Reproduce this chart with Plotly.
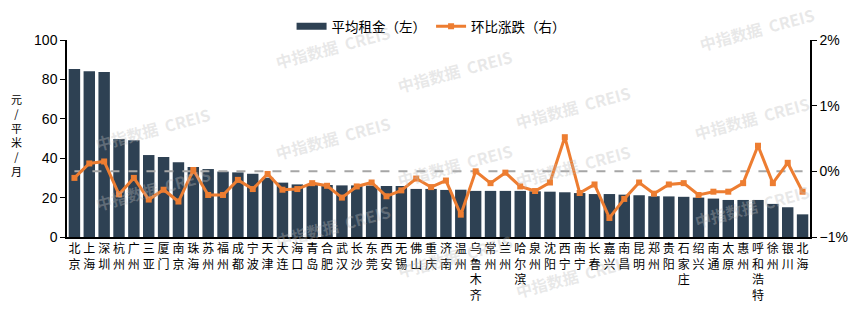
import plotly.graph_objects as go

cities = ["北京", "上海", "深圳", "杭州", "广州", "三亚", "厦门", "南京", "珠海", "苏州",
          "福州", "成都", "宁波", "天津", "大连", "海口", "青岛", "合肥", "武汉", "长沙",
          "东莞", "西安", "无锡", "佛山", "重庆", "济南", "温州", "乌鲁木齐", "常州", "兰州",
          "哈尔滨", "泉州", "沈阳", "西宁", "南宁", "长春", "嘉兴", "南昌", "昆明", "郑州",
          "贵阳", "石家庄", "绍兴", "南通", "太原", "惠州", "呼和浩特", "徐州", "银川", "北海"]

rent = [85.3, 84.1, 83.8, 49.7, 49.1, 41.6, 40.6, 37.9, 35.5, 34.5,
        33.2, 32.8, 32.1, 30.1, 27.6, 26.7, 26.5, 26.4, 26.2, 26.2,
        26.1, 25.9, 25.9, 24.4, 24.4, 23.9, 24.0, 23.4, 23.4, 23.4,
        23.4, 23.2, 23.0, 22.7, 22.3, 21.8, 21.8, 21.5, 21.2, 20.7,
        20.6, 20.4, 20.0, 19.5, 18.8, 18.8, 18.8, 16.8, 15.1, 11.5]

mom = [-0.10, 0.12, 0.15, -0.35, -0.10, -0.43, -0.28, -0.46, 0.02, -0.36,
       -0.36, -0.13, -0.27, -0.04, -0.28, -0.27, -0.18, -0.22, -0.40, -0.23,
       -0.17, -0.38, -0.29, -0.11, -0.24, -0.14, -0.66, 0.00, -0.18, -0.02,
       -0.23, -0.30, -0.17, 0.52, -0.33, -0.20, -0.71, -0.42, -0.17, -0.34,
       -0.20, -0.18, -0.36, -0.31, -0.31, -0.18, 0.39, -0.18, 0.13, -0.31]

baseline = [0.0] * len(cities)

labels = ["<br>".join(list(c)) for c in cities]

BAR = "#2E4153"
ORANGE = "#ED7D31"

fig = go.Figure()
fig.add_trace(go.Bar(x=cities, y=rent, name="平均租金（左）", marker_color=BAR,
                     marker_line_width=0, yaxis="y", showlegend=False))
# legend entry for bars drawn as a wide flat swatch
fig.add_trace(go.Scatter(x=[None], y=[None], name="平均租金（左）", mode="lines", yaxis="y",
                         line=dict(color=BAR, width=7), hoverinfo="skip"))
fig.add_trace(go.Scatter(x=cities, y=baseline, mode="lines", yaxis="y2", showlegend=False,
                         line=dict(color="#A6A6A6", width=2, dash="dash"), hoverinfo="skip"))
fig.add_trace(go.Scatter(x=cities, y=mom, name="环比涨跌（右）", mode="lines+markers", yaxis="y2",
                         line=dict(color=ORANGE, width=3),
                         marker=dict(color=ORANGE, size=6, symbol="square")))

# watermarks (pixel centres converted to paper coords)
L, R, T, B = 67, 810, 40, 237
wm = [(270, 18), (90, 100), (455, 42), (636, 78), (820, 0), (270, 138), (90, 218),
      (455, 165), (636, 195), (815, 118), (815, 235), (270, 255), (455, 285), (636, 305)]
ann = []
for px, py in wm:
    ann.append(dict(x=(px - L) / (R - L), y=(B - py) / (B - T), xref="paper", yref="paper",
                    text="<b>中指数据  CREIS</b>", showarrow=False, textangle=-15,
                    font=dict(size=16, color="rgba(190,190,190,0.35)", family="Noto Sans CJK SC")))
ann.append(dict(x=-0.068, y=0.52, xref="paper", yref="paper",
                text="元<br>/<br>平<br>米<br>/<br>月", showarrow=False,
                font=dict(size=11, color="#000000"), xanchor="center", yanchor="middle"))

fig.update_layout(
    width=858, height=309,
    margin=dict(l=L, r=858 - R, t=T, b=309 - B, autoexpand=False),
    paper_bgcolor="white", plot_bgcolor="white",
    font=dict(family="Noto Sans CJK SC, Liberation Sans, sans-serif", color="#000000", size=13),
    bargap=0.23,
    showlegend=True,
    legend=dict(orientation="h", x=0.49, xanchor="center", y=(B - 11) / (B - T), yanchor="top",
                font=dict(size=13.5), itemwidth=30, tracegroupgap=0, bgcolor="rgba(0,0,0,0)"),
    xaxis=dict(type="category", showline=True, linecolor="#000000", linewidth=1.5,
               ticks="", tickangle=0, tickfont=dict(size=12), showgrid=False, automargin=False,
               tickmode="array", tickvals=cities, ticktext=labels,
               range=[-0.5, len(cities) - 0.5], autorange=False),
    yaxis=dict(range=[0, 100], dtick=20, showline=True, linecolor="#000000", linewidth=1.5,
               ticks="outside", ticklen=5, tickcolor="#000000", showgrid=False, zeroline=False,
               tickfont=dict(size=14, family="Liberation Sans, Arial, sans-serif")),
    yaxis2=dict(range=[-1, 2], dtick=1, overlaying="y", side="right", showline=True,
                linecolor="#000000", linewidth=1.5, ticks="outside", ticklen=5, tickcolor="#000000",
                showgrid=False, zeroline=False, ticksuffix="%",
                tickfont=dict(size=14, family="Liberation Sans, Arial, sans-serif")),
    annotations=ann,
)

fig.write_html("out.html")
